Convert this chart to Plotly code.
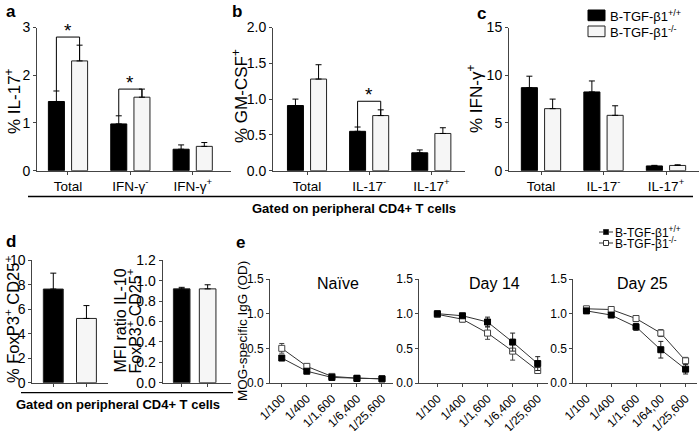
import plotly.graph_objects as go

W, H = 700, 431
FONT = "Liberation Sans, Arial, sans-serif"

# ---------------- data ----------------
a_cats = ["Total", "IFN-γ<sup>-</sup>", "IFN-γ<sup>+</sup>"]
a_wt = [1.45, 0.98, 0.45]
a_wt_err = [0.22, 0.17, 0.09]
a_ko = [2.30, 1.54, 0.51]
a_ko_err = [0.33, 0.17, 0.08]

b_cats = ["Total", "IL-17<sup>-</sup>", "IL-17<sup>+</sup>"]
b_wt = [0.91, 0.55, 0.25]
b_wt_err = [0.09, 0.06, 0.04]
b_ko = [1.28, 0.77, 0.52]
b_ko_err = [0.20, 0.08, 0.08]

c_cats = ["Total", "IL-17<sup>-</sup>", "IL-17<sup>+</sup>"]
c_wt = [8.70, 8.25, 0.50]
c_wt_err = [1.20, 1.15, 0.06]
c_ko = [6.50, 5.80, 0.55]
c_ko_err = [1.00, 1.00, 0.07]

d_groups = ["B-TGF-β1 +/+", "B-TGF-β1 -/-"]
d_foxp3 = [7.65, 5.25]
d_foxp3_err = [1.30, 1.05]
d_mfi = [0.92, 0.92]
d_mfi_err = [0.015, 0.04]

dil = ["1/100", "1/400", "1/1,600", "1/6,400", "1/25,600"]
dil_d25 = ["1/100", "1/400", "1/1,600", "1/64,00", "1/25,600"]
naive_wt = [0.36, 0.17, 0.08, 0.065, 0.06]
naive_wt_err = [0.02, 0.02, 0.01, 0.01, 0.01]
naive_ko = [0.50, 0.24, 0.095, 0.07, 0.06]
naive_ko_err = [0.07, 0.03, 0.015, 0.01, 0.01]
d14_wt = [1.00, 0.97, 0.88, 0.59, 0.28]
d14_wt_err = [0.02, 0.02, 0.07, 0.13, 0.10]
d14_ko = [0.99, 0.92, 0.72, 0.46, 0.18]
d14_ko_err = [0.02, 0.04, 0.09, 0.13, 0.04]
d25_wt = [1.04, 0.98, 0.81, 0.48, 0.20]
d25_wt_err = [0.02, 0.02, 0.05, 0.12, 0.07]
d25_ko = [1.07, 1.06, 0.93, 0.72, 0.32]
d25_ko_err = [0.02, 0.02, 0.03, 0.05, 0.05]

# significance brackets: (group index, bracket level, star level)
sig_a = [(0, 2.80, 2.93), (1, 1.71, 1.84)]
sig_b = [(1, 0.97, 1.06)]

WT_LABEL = "B-TGF-β1<sup>+/+</sup>"
KO_LABEL = "B-TGF-β1<sup>-/-</sup>"

# ---------------- helpers ----------------
def px(x):
    return x / W

def py(y):
    return 1 - y / H

AX = "#444"
WHITE_BAR = "#f6f6f6"

def xax(x0, x1, y_anchor, rng, **kw):
    d = dict(domain=[px(x0), px(x1)], anchor=y_anchor, type="category", range=rng,
             showline=True, linecolor=AX, linewidth=1, ticks="outside", ticklen=3,
             tickcolor=AX, showgrid=False, zeroline=False, automargin=False,
             ticklabeloverflow="allow",
             tickfont=dict(size=13.5, color="black", family=FONT))
    d.update(kw)
    return d

def yax(y_top, y_bot, x_anchor, rng, dtick, fmt=None, size=14):
    d = dict(domain=[py(y_bot), py(y_top)], anchor=x_anchor, range=rng, dtick=dtick,
             tick0=0, showline=True, linecolor=AX, linewidth=1, ticks="outside",
             ticklen=3, tickcolor=AX, showgrid=False, zeroline=False, automargin=False,
             ticklabelstandoff=0, ticklabeloverflow="allow",
             tickfont=dict(size=size, color="black", family=FONT))
    if fmt:
        d["tickformat"] = fmt
    return d

BW = 0.257
OFF_WT = -0.186 - BW / 2
OFF_KO = 0.186 - BW / 2

fig = go.Figure()

def add_bars(cats, wt, wt_err, ko, ko_err, xa, ya):
    fig.add_trace(go.Bar(
        x=cats, y=wt, xaxis=xa, yaxis=ya, width=BW, offset=OFF_WT,
        marker=dict(color="black", line=dict(color="black", width=1)),
        error_y=dict(type="data", symmetric=False, array=wt_err,
                     arrayminus=[0] * len(wt), color="black", thickness=1, width=3),
        showlegend=False, name=WT_LABEL))
    fig.add_trace(go.Bar(
        x=cats, y=ko, xaxis=xa, yaxis=ya, width=BW, offset=OFF_KO,
        marker=dict(color=WHITE_BAR, line=dict(color="#222", width=1)),
        error_y=dict(type="data", symmetric=False, array=ko_err,
                     arrayminus=[0] * len(ko), color="black", thickness=1, width=3),
        showlegend=False, name=KO_LABEL))

add_bars(a_cats, a_wt, a_wt_err, a_ko, a_ko_err, "x", "y")
add_bars(b_cats, b_wt, b_wt_err, b_ko, b_ko_err, "x2", "y2")
add_bars(c_cats, c_wt, c_wt_err, c_ko, c_ko_err, "x3", "y3")

# panel d
fig.add_trace(go.Bar(
    x=d_groups, y=d_foxp3, xaxis="x4", yaxis="y4", width=0.6, offset=-0.3,
    marker=dict(color=["black", WHITE_BAR], line=dict(color="#222", width=1)),
    error_y=dict(type="data", symmetric=False, array=d_foxp3_err, arrayminus=[0, 0],
                 color="black", thickness=1, width=3),
    showlegend=False))
fig.add_trace(go.Bar(
    x=d_groups, y=d_mfi, xaxis="x5", yaxis="y5", width=0.64, offset=-0.32,
    marker=dict(color=["black", WHITE_BAR], line=dict(color="#222", width=1)),
    error_y=dict(type="data", symmetric=False, array=d_mfi_err, arrayminus=[0, 0],
                 color="black", thickness=1, width=3),
    showlegend=False))

# panel e
def add_lines(cats, wt, wt_err, ko, ko_err, xa, ya):
    fig.add_trace(go.Scatter(
        x=cats, y=ko, xaxis=xa, yaxis=ya, mode="lines+markers",
        line=dict(color="#333", width=1),
        marker=dict(symbol="square", size=6, color="white", line=dict(color="#444", width=1)),
        error_y=dict(type="data", array=ko_err, color="#444", thickness=1, width=2.5),
        showlegend=False, name=KO_LABEL))
    fig.add_trace(go.Scatter(
        x=cats, y=wt, xaxis=xa, yaxis=ya, mode="lines+markers",
        line=dict(color="#333", width=1),
        marker=dict(symbol="square", size=6, color="black", line=dict(color="black", width=1)),
        error_y=dict(type="data", array=wt_err, color="#222", thickness=1, width=2.5),
        showlegend=False, name=WT_LABEL))

add_lines(dil, naive_wt, naive_wt_err, naive_ko, naive_ko_err, "x6", "y6")
add_lines(dil, d14_wt, d14_wt_err, d14_ko, d14_ko_err, "x7", "y7")
add_lines(dil_d25, d25_wt, d25_wt_err, d25_ko, d25_ko_err, "x8", "y8")

# ---------------- layout ----------------
TOP_Y0, TOP_Y1 = 27.5, 170.7
BOT_Y0, BOT_Y1 = 260.3, 382.7
E_Y0, E_Y1 = 279.0, 383.0

etick = dict(size=12, color="black", family=FONT)

layout = dict(
    template="none",
    width=W, height=H, margin=dict(l=0, r=0, t=0, b=0, pad=0, autoexpand=False),
    paper_bgcolor="white", plot_bgcolor="white",
    font=dict(family=FONT, color="black"),
    barmode="overlay", showlegend=False,
    xaxis=xax(37, 231, "y", [-0.497, 2.614]),
    yaxis=yax(TOP_Y0, TOP_Y1, "x", [0, 3], 1),
    xaxis2=xax(273, 465, "y2", [-0.547, 2.542]),
    yaxis2=yax(TOP_Y0, TOP_Y1, "x2", [0, 2], 0.5, ".1f"),
    xaxis3=xax(509, 699, "y3", [-0.512, 2.528]),
    yaxis3=yax(TOP_Y0, TOP_Y1, "x3", [0, 15], 5),
    xaxis4=xax(32.3, 108, "y4", [-0.633, 1.65], showticklabels=False),
    yaxis4=yax(BOT_Y0, BOT_Y1, "x4", [0, 10], 2),
    xaxis5=xax(162.5, 231, "y5", [-0.74, 1.9], showticklabels=False),
    yaxis5=yax(BOT_Y0, BOT_Y1, "x5", [0, 1.2], 0.2, ".1f"),
    xaxis6=xax(270, 393, "y6", [-0.47, 4.44], tickangle=-45, tickfont=etick),
    yaxis6=yax(E_Y0, E_Y1, "x6", [0, 1.5], 0.5, ".1f", size=12),
    xaxis7=xax(419.3, 548, "y7", [-0.72, 4.41], tickangle=-45, tickfont=etick),
    yaxis7=yax(E_Y0, E_Y1, "x7", [0, 1.5], 0.5, ".1f", size=12),
    xaxis8=xax(573.3, 697, "y8", [-0.53, 4.46], tickangle=-45, tickfont=etick),
    yaxis8=yax(E_Y0, E_Y1, "x8", [0, 1.5], 0.5, ".1f", size=12),
)
fig.update_layout(**layout)

shapes = []
annotations = []

def ann(x, y, text, size, **kw):
    d = dict(x=px(x), y=py(y), xref="paper", yref="paper", text=text, showarrow=False,
             font=dict(size=size, family=FONT, color="black"), xanchor="center", yanchor="middle")
    d.update(kw)
    annotations.append(d)

# significance brackets
def add_sig(sigs, wt, wt_err, ko, ko_err, xa, ya):
    for gi, level, star in sigs:
        xl = gi - 0.186
        xr = gi + 0.186
        yl = wt[gi] + wt_err[gi]
        yr = ko[gi]
        shapes.append(dict(type="path", xref=xa, yref=ya,
                           path=f"M {xl},{yl} L {xl},{level} L {xr},{level} L {xr},{yr}",
                           line=dict(color="black", width=1)))
        annotations.append(dict(x=gi, y=star, xref=xa, yref=ya, text="*", showarrow=False,
                                font=dict(size=19, family=FONT, color="black"),
                                xanchor="center", yanchor="middle"))

add_sig(sig_a, a_wt, a_wt_err, a_ko, a_ko_err, "x", "y")
add_sig(sig_b, b_wt, b_wt_err, b_ko, b_ko_err, "x2", "y2")

# y titles
ann(13, 101, "% IL-17<sup>+</sup>", 17, textangle=-90)
ann(240, 96, "% GM-CSF<sup>+</sup>", 17, textangle=-90)
ann(475, 99, "% IFN-γ<sup>+</sup>", 17, textangle=-90)
ann(12, 320, "% FoxP3<sup>+</sup> CD25<sup>+</sup>", 16.5, textangle=-90)
ann(119.5, 321, "MFI ratio IL-10", 16, textangle=-90)
ann(134.5, 321, "FoxP3<sup>+</sup> CD25<sup>+</sup>", 16, textangle=-90)
ann(242, 331, "MOG-specific IgG (OD)", 13.5, textangle=-90)

# panel letters
for x, y, t in [(11, 12, "a"), (237, 12, "b"), (481, 13, "c"), (11, 241, "d"), (240, 242, "e")]:
    ann(x, y, f"<b>{t}</b>", 17)

# e subplot titles
ann(337.5, 283, "Naïve", 16)
ann(494, 283, "Day 14", 16)
ann(642.5, 283, "Day 25", 16)

# separators
shapes.append(dict(type="line", xref="paper", yref="paper", x0=px(28), x1=px(693),
                   y0=py(196.5), y1=py(196.5), line=dict(color="black", width=1.3)))
ann(354, 208, "<b>Gated on peripheral CD4+ T cells</b>", 13)
shapes.append(dict(type="line", xref="paper", yref="paper", x0=px(21), x1=px(233),
                   y0=py(392.7), y1=py(392.7), line=dict(color="black", width=1.3)))
ann(118, 404, "<b>Gated on peripheral CD4+ T cells</b>", 13)

# legend (bars)
shapes.append(dict(type="rect", xref="paper", yref="paper", x0=px(588), x1=px(605),
                   y0=py(20.7), y1=py(10), fillcolor="black", line=dict(color="black", width=1)))
shapes.append(dict(type="rect", xref="paper", yref="paper", x0=px(588), x1=px(605),
                   y0=py(36.7), y1=py(26), fillcolor=WHITE_BAR, line=dict(color="#222", width=1)))
ann(607.5, 15.5, WT_LABEL, 13, xanchor="left")
ann(607.5, 31.5, KO_LABEL, 13, xanchor="left")

# legend (lines)
for yy, fill in [(232, "black"), (243, "white")]:
    shapes.append(dict(type="line", xref="paper", yref="paper", x0=px(599), x1=px(613),
                       y0=py(yy), y1=py(yy), line=dict(color="#333", width=1)))
    shapes.append(dict(type="rect", xref="paper", yref="paper", x0=px(603.5), x1=px(608.5),
                       y0=py(yy + 2.5), y1=py(yy - 2.5), fillcolor=fill,
                       line=dict(color="#333", width=1)))
ann(613, 232, WT_LABEL, 12, xanchor="left")
ann(613, 243, KO_LABEL, 12, xanchor="left")

fig.update_layout(shapes=shapes, annotations=annotations)
fig.write_html("out.html", config={"displayModeBar": False},
               post_script="document.body.style.margin='0';document.body.style.overflow='hidden';")
